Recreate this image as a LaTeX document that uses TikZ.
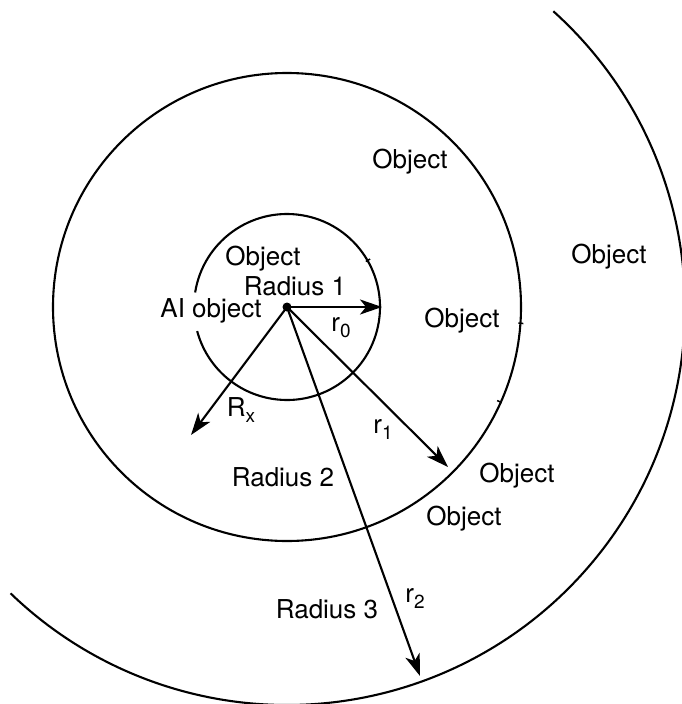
\documentclass[tikz,border=0pt]{standalone}
\usepackage{fontspec}
\setmainfont{TeX Gyre Heros}
\usetikzlibrary{arrows.meta}
\newcommand{\lowsub}[1]{\raisebox{-6pt}{\fontsize{19}{19}\selectfont #1}}
\begin{document}
\begin{tikzpicture}[x=1pt,y=-1pt,
  ring/.style={line width=2.1pt},
  ray/.style={line width=2.1pt,-{Stealth[length=22pt,width=15pt,inset=6pt]}},
  lbl/.style={font=\fontsize{26}{30}\selectfont,inner sep=0pt},
  tick/.style={line width=1.5pt}]
\useasboundingbox (0,0) rectangle (682,704);
\clip (0,0) rectangle (682,704);
\fill[white] (0,0) rectangle (682,704);
\coordinate (c) at (287,307);
% inner circle with gap on the left
\draw[ring] (c) ++(171:93pt) arc[start angle=171,end angle=-165,radius=93pt];
% middle circle
\draw[ring] (c) circle[radius=234pt];
% outer arc
\draw[ring] (c) ++(48:398pt) arc[start angle=48,end angle=-134,radius=398pt];
% small marks on circles
\draw[tick] (c) ++(30:91pt) -- ++(30:5pt);
\draw[tick] (c) ++(-4:232pt) -- ++(-4:5pt);
\draw[tick] (c) ++(-24:230pt) -- ++(-24:5pt);
% centre dot
\fill (c) circle[radius=4.5pt];
% arrow tips
\coordinate (t0) at (382,307);
\coordinate (tx) at (191,435);
\coordinate (t1) at (448,467);
\coordinate (t2) at (420,676);
\draw[ray] (c) -- (t0);
\draw[ray] (c) -- (tx);
\draw[ray] (c) -- (t1);
\draw[ray] (c) -- (t2);
% labels
\node[lbl] (o1) at (410,162) {Object};
\node[lbl] (o2) at (609,257) {Object};
\node[lbl] (o3) at (263,259) {Object};
\node[lbl] (rad1) at (295,286) {Radius 1};
\node[lbl] (ai) at (211,311) {AI object};
\node[lbl] (lr0) at (341,328) {r\lowsub{0}};
\node[lbl] (o4) at (462,321) {Object};
\node[lbl] (lrx) at (241,410) {R\lowsub{x}};
\node[lbl] (lr1) at (383,429) {r\lowsub{1}};
\node[lbl] (rad2) at (283,477) {Radius 2};
\node[lbl] (o5) at (517,476) {Object};
\node[lbl] (o6) at (464,519) {Object};
\node[lbl] (rad3) at (327,609) {Radius 3};
\node[lbl] (lr2) at (415,598) {r\lowsub{2}};
\end{tikzpicture}
\end{document}
